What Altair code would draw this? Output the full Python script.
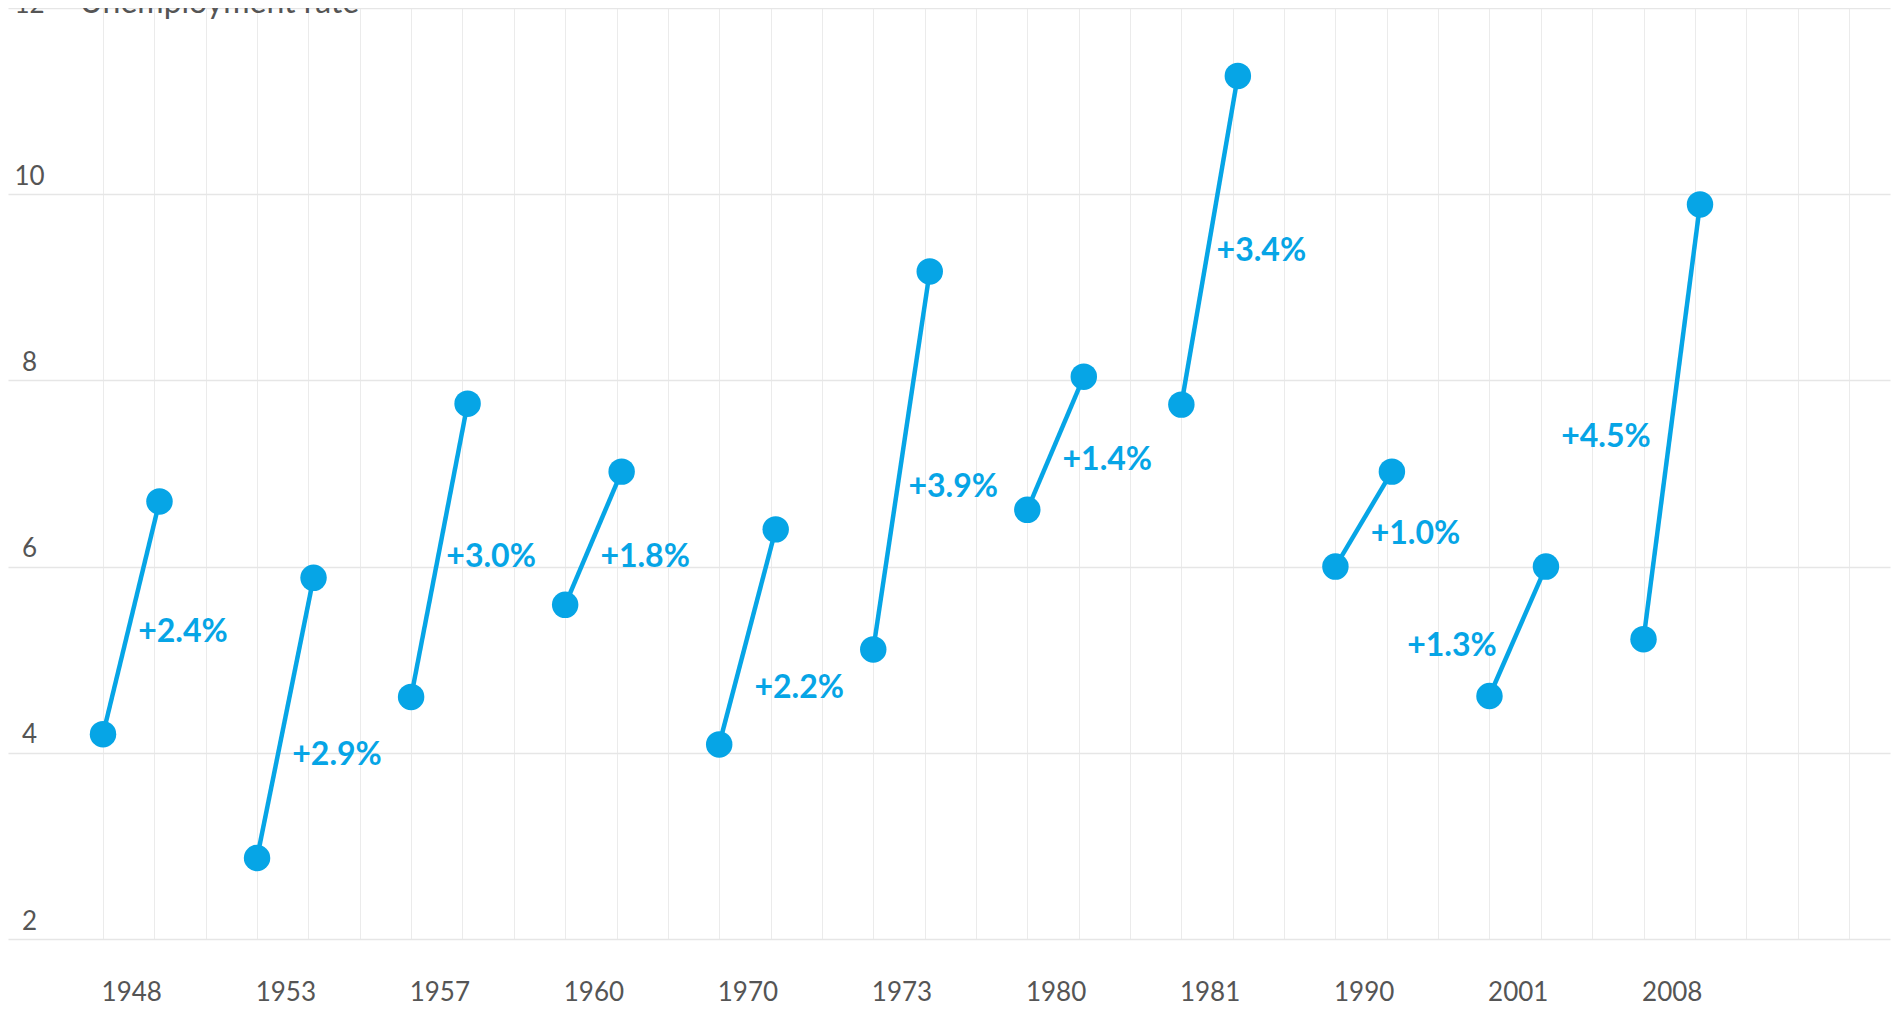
import altair as alt
import pandas as pd

# ---- data ----
years = ["1948", "1953", "1957", "1960", "1970", "1973", "1980", "1981", "1990", "2001", "2008"]
start_rate = [4.20, 2.87, 4.60, 5.59, 4.09, 5.11, 6.61, 7.74, 6.00, 4.61, 5.22]
end_rate = [6.70, 5.88, 7.75, 7.02, 6.40, 9.17, 8.04, 11.27, 7.02, 6.00, 9.89]
change_text = ["+2.4%", "+2.9%", "+3.0%", "+1.8%", "+2.2%", "+3.9%", "+1.4%", "+3.4%", "+1.0%", "+1.3%", "+4.5%"]
label_rate = [5.30, 3.98, 6.10, 6.10, 4.70, 6.85, 7.14, 9.39, 6.35, 5.15, 7.39]
label_side = ["right", "right", "right", "right", "right", "right", "right", "right", "right", "left", "left"]
y_ticks = [2, 4, 6, 8, 10, 12]

BLUE = "#06a5e6"
GREY = "#555555"
FONT = "Lato"

df = pd.DataFrame({
    "year": years,
    "start": start_rate,
    "end": end_rate,
    "change": change_text,
    "label_rate": label_rate,
    "side": label_side,
    "slot": list(range(len(years))),
})

SLOT = 3          # grid slots per recession group
END_OFF = 1.1     # end point offset within a group
MID_OFF = END_OFF / 2

x_scale = alt.Scale(domain=[-1.85, 34.8], nice=False, zero=False)
y_scale = alt.Scale(domain=[2, 12], nice=False, zero=False)

grid_values = list(range(35))
label_values = [i * SLOT + MID_OFF for i in range(len(years))]
year_js = "[" + ",".join(f"'{y}'" for y in years) + "]"
is_label = "abs(datum.value - round(datum.value)) > 0.01"

x_axis = alt.Axis(
    values=grid_values + label_values,
    title=None,
    domain=False,
    ticks=False,
    tickSize=0,
    grid=True,
    gridColor="#ebebeb",
    gridWidth=1,
    gridOpacity={"condition": {"test": is_label, "value": 0}, "value": 1},
    labelExpr=f"{is_label} ? {year_js}[floor(datum.value / {SLOT})] : ''",
    labelFont=FONT,
    labelFontSize=26,
    labelColor=GREY,
    labelBaseline="alphabetic",
    labelPadding=61,
    labelFlush=False,
    labelOverlap=False,
    labelBound=False,
)

y_title = "Unemployment rate"
y_axis = alt.Axis(
    values=y_ticks,
    format="d",
    title=y_title,
    titleAngle=0,
    titleAlign="left",
    titleBaseline="alphabetic",
    titleX=71,
    titleY=4,
    titleFont=FONT,
    titleFontSize=32,
    titleFontWeight="normal",
    titleColor=GREY,
    domain=False,
    ticks=False,
    tickSize=0,
    grid=True,
    gridColor="#e6e6e6",
    gridWidth=1.5,
    labelFont=FONT,
    labelFontSize=26,
    labelColor=GREY,
    labelAlign="center",
    labelBaseline="alphabetic",
    labelPadding=-21,
    labelOffset={"condition": {"test": "datum.value == 12", "value": 4}, "value": -10},
    labelFlush=False,
    labelOverlap=False,
    labelBound=False,
)

base = alt.Chart(df)

rules = base.transform_calculate(
    xs=f"datum.slot * {SLOT}",
    xe=f"datum.slot * {SLOT} + {END_OFF}",
).mark_rule(color=BLUE, strokeWidth=4.5).encode(
    x=alt.X("xs:Q", scale=x_scale, axis=x_axis),
    x2="xe:Q",
    y=alt.Y("start:Q", scale=y_scale, axis=y_axis),
    y2="end:Q",
)

points = base.transform_fold(
    ["start", "end"], as_=["phase", "rate"]
).transform_calculate(
    xp=f"datum.slot * {SLOT} + (datum.phase == 'end' ? {END_OFF} : 0)"
).mark_circle(size=700, color=BLUE, opacity=1).encode(
    x=alt.X("xp:Q", title=None),
    y=alt.Y("rate:Q", title=y_title),
)

labels_right = base.transform_filter("datum.side == 'right'").transform_calculate(
    xm=f"datum.slot * {SLOT} + {MID_OFF}"
).mark_text(
    align="left", baseline="middle", dx=7, font=FONT, fontSize=32, fontWeight="bold", color=BLUE
).encode(
    x=alt.X("xm:Q", title=None),
    y=alt.Y("label_rate:Q", title=y_title),
    text="change:N",
)

labels_left = base.transform_filter("datum.side == 'left'").transform_calculate(
    xm=f"datum.slot * {SLOT} + {MID_OFF}"
).mark_text(
    align="right", baseline="middle", dx=-21, font=FONT, fontSize=32, fontWeight="bold", color=BLUE
).encode(
    x=alt.X("xm:Q", title=None),
    y=alt.Y("label_rate:Q", title=y_title),
    text="change:N",
)

chart = alt.layer(rules, points, labels_right, labels_left).properties(
    width=1882,
    height=931,
    autosize=alt.AutoSizeParams(type="none"),
    padding={"top": 0, "left": 0, "right": 4, "bottom": 70},
    background="white",
).configure_view(stroke=None)

chart.save("out.html", embed_options={"renderer": "svg", "actions": False})
